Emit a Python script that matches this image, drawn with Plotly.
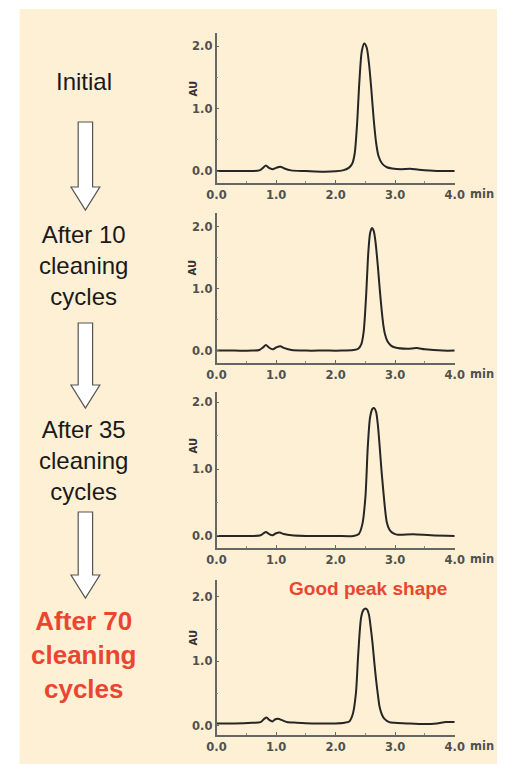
import plotly.graph_objects as go

# chromatogram readings (time in min, absorbance in AU)
t_initial = [0.0, 0.3, 0.6, 0.72, 0.78, 0.83, 0.88, 0.94, 1.0, 1.07, 1.14, 1.25, 1.5, 1.8, 2.0, 2.12,
             2.22, 2.28, 2.32, 2.36, 2.40, 2.44, 2.48, 2.52, 2.56, 2.60, 2.64, 2.68, 2.72, 2.78, 2.86,
             2.95, 3.1, 3.25, 3.4, 3.7, 4.0]
au_initial = [0.0, 0.0, 0.0, 0.01, 0.05, 0.09, 0.05, 0.03, 0.05, 0.07, 0.04, 0.01, 0.0, -0.01, -0.005, 0.01,
              0.05, 0.12, 0.28, 0.75, 1.45, 1.92, 2.04, 1.98, 1.72, 1.30, 0.82, 0.45, 0.24, 0.12, 0.06,
              0.04, 0.03, 0.035, 0.02, 0.0, 0.0]

t_after10 = [0.0, 0.3, 0.6, 0.72, 0.78, 0.83, 0.88, 0.94, 1.0, 1.07, 1.14, 1.26, 1.5, 1.8, 2.1, 2.3,
             2.38, 2.43, 2.47, 2.51, 2.55, 2.58, 2.61, 2.64, 2.67, 2.71, 2.74, 2.77, 2.80, 2.83, 2.87,
             2.93, 3.0, 3.2, 3.36, 3.5, 3.8, 4.0]
au_after10 = [0.0, 0.0, 0.0, 0.01, 0.05, 0.09, 0.05, 0.02, 0.05, 0.07, 0.04, 0.01, 0.0, 0.0, 0.0, 0.01,
              0.03, 0.10, 0.30, 0.85, 1.60, 1.90, 1.98, 1.93, 1.75, 1.35, 1.0, 0.68, 0.42, 0.26, 0.15,
              0.08, 0.05, 0.03, 0.04, 0.02, 0.0, 0.0]

t_after35 = [0.0, 0.3, 0.6, 0.74, 0.79, 0.83, 0.88, 0.94, 1.0, 1.06, 1.13, 1.26, 1.5, 2.0, 2.3,
             2.39, 2.45, 2.50, 2.54, 2.58, 2.62, 2.65, 2.68, 2.71, 2.74, 2.77, 2.80, 2.83, 2.86, 2.90,
             2.95, 3.03, 3.3, 3.6, 4.0]
au_after35 = [0.0, 0.0, 0.0, 0.01, 0.04, 0.06, 0.03, 0.01, 0.04, 0.05, 0.03, 0.01, 0.0, 0.0, 0.0,
              0.03, 0.18, 0.58, 1.33, 1.78, 1.90, 1.91, 1.85, 1.65, 1.33, 0.98, 0.68, 0.40, 0.20, 0.10,
              0.05, 0.02, 0.025, 0.01, 0.0]

t_after70 = [0.0, 0.3, 0.6, 0.74, 0.80, 0.84, 0.89, 0.94, 0.98, 1.03, 1.10, 1.18, 1.35, 1.6, 2.0, 2.15,
             2.23, 2.29, 2.34, 2.38, 2.43, 2.47, 2.50, 2.53, 2.56, 2.59, 2.62, 2.65, 2.68, 2.71, 2.74,
             2.78, 2.82, 2.9, 3.0, 3.2, 3.5, 3.7, 3.85, 4.0]
au_after70 = [0.04, 0.04, 0.05, 0.06, 0.11, 0.13, 0.09, 0.07, 0.10, 0.11, 0.09, 0.06, 0.05, 0.04, 0.04, 0.05,
              0.07, 0.19, 0.50, 1.12, 1.69, 1.80, 1.82, 1.80, 1.72, 1.52, 1.28, 0.98, 0.71, 0.48, 0.29,
              0.17, 0.11, 0.06, 0.05, 0.04, 0.03, 0.04, 0.06, 0.06]

stage_labels = ["Initial", "After 10<br>cleaning<br>cycles", "After 35<br>cleaning<br>cycles",
                "After 70<br>cleaning<br>cycles"]
x_tickvals = [0, 1, 2, 3, 4]
x_ticktext = ["0.0", "1.0", "2.0", "3.0", "4.0"]
y_tickvals = [0, 1, 2]
y_ticktext = ["0.0", "1.0", "2.0"]

W, H = 507, 764
def px(x): return x / W
def py(y): return 1 - y / H

series = [(t_initial, au_initial), (t_after10, au_after10), (t_after35, au_after35), (t_after70, au_after70)]
# pixel boxes (top, bottom) of each chromatogram and y ranges
boxes = [(33, 183), (213, 363), (392, 548), (580, 735)]
yranges = [[-0.192, 2.208], [-0.20, 2.22], [-0.18, 2.15], [-0.14, 2.26]]
label_y = [82, 265, 461, 655]
au_y = [88, 267, 445, 637]

tickfont = dict(family="DejaVu Sans", size=11.5, color="#505050", weight="bold")
red = "#EB4530"

fig = go.Figure()
layout = dict(
    width=W, height=H,
    margin=dict(l=0, r=0, t=0, b=0),
    paper_bgcolor="white",
    plot_bgcolor="rgba(0,0,0,0)",
    showlegend=False,
    shapes=[dict(type="rect", xref="paper", yref="paper", x0=px(10), x1=1, y0=0, y1=py(9),
                 fillcolor="#FEF0D4", line=dict(width=0), layer="below")],
    annotations=[],
)

for i, (t, au) in enumerate(series):
    n = "" if i == 0 else str(i + 1)
    fig.add_trace(go.Scatter(x=t, y=au, mode="lines", xaxis="x" + n, yaxis="y" + n,
                             line=dict(color="#262626", width=2, shape="spline", smoothing=0.8),
                             hoverinfo="skip"))
    top, bot = boxes[i]
    layout["xaxis" + n] = dict(domain=[px(215), px(463)], range=[0, 4], anchor="y" + n,
                               tickvals=x_tickvals, ticktext=x_ticktext, tickfont=tickfont,
                               ticks="inside", ticklen=3, tickcolor="#666",
                               minor=dict(dtick=0.5, ticks="inside", ticklen=2, tickcolor="#888"),
                               showline=True, linecolor="#666", linewidth=1.5,
                               showgrid=False, zeroline=False, fixedrange=True)
    layout["yaxis" + n] = dict(domain=[py(bot), py(top)], range=yranges[i], anchor="x" + n,
                               tickvals=y_tickvals, ticktext=y_ticktext, tickfont=tickfont,
                               ticks="inside", ticklen=3, tickcolor="#666",
                               minor=dict(dtick=0.5, ticks="inside", ticklen=2, tickcolor="#888"),
                               showline=True, linecolor="#666", linewidth=1.5,
                               showgrid=False, zeroline=False, fixedrange=True)
    # "min" unit next to last tick label, "AU" axis label
    layout["annotations"].append(dict(text="min", xref="paper", yref="paper", x=px(477), y=py(bot + 11),
                                      xanchor="left", yanchor="middle", showarrow=False,
                                      font=dict(family="DejaVu Sans", size=11.5, color="#505050", weight="bold")))
    layout["annotations"].append(dict(text="AU", xref="paper", yref="paper", x=px(191), y=py(au_y[i]),
                                      xanchor="center", yanchor="middle", textangle=-90, showarrow=False,
                                      font=dict(family="DejaVu Sans", size=10, color="#333", weight="bold")))
    last = i == 3
    layout["annotations"].append(dict(text=stage_labels[i], xref="paper", yref="paper", x=px(77),
                                      y=py(label_y[i]), xanchor="center", yanchor="middle", showarrow=False,
                                      font=dict(family="Liberation Sans", size=26 if last else 24,
                                                color=red if last else "#1a1a1a",
                                                weight="bold" if last else "normal")))

layout["annotations"].append(dict(text="Good peak shape", xref="paper", yref="paper", x=px(373), y=py(588),
                                  xanchor="center", yanchor="middle", showarrow=False,
                                  font=dict(family="Liberation Sans", size=19, color=red, weight="bold")))

# hollow down arrows between stages (pixel geometry)
for top, head, tip in [(122, 187, 210), (323, 385, 408), (512, 575, 598)]:
    cx = 78.5
    pts = [(cx - 7.5, top), (cx + 7.5, top), (cx + 7.5, head), (cx + 15, head), (cx, tip),
           (cx - 15, head), (cx - 7.5, head)]
    path = "M " + " L ".join(f"{px(x):.5f},{py(y):.5f}" for x, y in pts) + " Z"
    layout["shapes"].append(dict(type="path", xref="paper", yref="paper", path=path,
                                 fillcolor="white", line=dict(color="#555", width=1.2)))

fig.update_layout(layout)
fig.write_html("out.html", config={"displayModeBar": False},
               post_script="document.body.style.margin='0';")
